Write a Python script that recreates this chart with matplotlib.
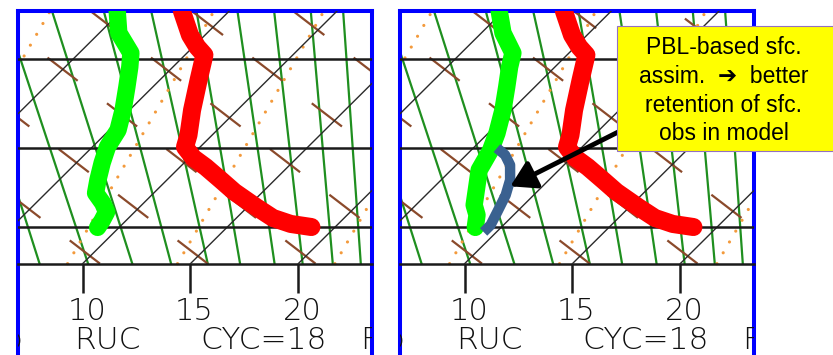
import numpy as np
import matplotlib
matplotlib.use("Agg")
import matplotlib.pyplot as plt
from matplotlib.patches import Rectangle
from matplotlib.transforms import ScaledTranslation

plt.rcParams["lines.scale_dashes"] = False

# ---------- valores ----------
# temperatura (vermelho), igual nos dois painéis  [hPa, °C]
p_temp = [651.6, 675.4, 687.6, 695.8, 722.3, 755.4, 784.1, 798.3, 811.4,
          822.5, 838.5, 853.7, 873.0, 887.5, 895.4, 899.5]
t_temp = [2.8, 4.3, 5.2, 5.9, 6.8, 7.9, 8.9, 9.3, 10.2,
          11.2, 12.5, 13.7, 15.4, 16.7, 17.8, 18.9]

# ponto de orvalho (verde), painel esquerdo
p_dew_a = [651.6, 673.3, 693.8, 708.4, 729.9, 755.4, 778.3, 798.3, 817.5,
           838.5, 855.0, 867.9, 879.6, 891.5, 900.0]
t_dew_a = [-0.2, 0.9, 2.4, 3.0, 3.8, 4.7, 5.4, 5.7, 6.2,
           6.8, 7.3, 8.1, 8.7, 8.9, 9.0]

# ponto de orvalho (verde), painel direito
p_dew_b = [651.6, 673.3, 693.8, 708.4, 729.9, 755.4, 781.8, 801.9, 826.1,
           851.1, 870.4, 883.5, 900.0]
t_dew_b = [-0.2, 1.0, 2.4, 2.9, 3.7, 4.6, 5.4, 5.9, 6.3,
           7.1, 7.7, 8.3, 8.8]

# linha azul (obs. de superfície retidas), painel direito
p_obs = [799.5, 807.8, 820.0, 838.5, 857.6, 879.6, 896.8, 906.2]
t_obs = [6.1, 6.8, 7.5, 8.2, 8.7, 9.1, 9.4, 9.4]

# ---------- linhas de fundo do diagrama ----------
isobaras = [700, 800, 900]
isotermas = [-10, -5, 0, 5, 10, 15, 20, 25]
ticks_t = [10, 15, 20]
# adiabaticas umidas (verde): T em 950 e 652 hPa
umida_950 = [8.0, 10.25, 12.3, 14.1, 15.8, 17.3, 18.9, 20.2, 21.6, 22.9]
umida_652 = [-7.5, -5.4, -3.2, -0.8, 1.4, 3.5, 5.4, 7.1, 8.8, 10.3]
# adiabaticas secas (marrom tracejado)
seca_950 = [10.8, 15.8, 20.8, 25.6, 30.3, 35.0]
seca_652 = [-16.2, -11.2, -6.2, -1.4, 3.3, 8.0]
# razao de mistura (pontos laranja)
mist_950 = [1.7, 9.3, 14.4, 21.7]
mist_652 = [-3.3, 4.3, 9.4, 16.7]

caixa_linhas = ["PBL-based sfc.", "assim.  \u2794  better",
                "retention of sfc.", "obs in model"]

P_BASE, P_TOP = 950.0, 652.0
SKEW = 31.3
W, H = 833, 355


def skew(t, p):
    return np.asarray(t, float) + SKEW * np.log(P_BASE / np.asarray(p, float))


fig = plt.figure(figsize=(W / 100, H / 100), dpi=100)


def eixo_px(left, top, right, bottom):
    return fig.add_axes([left / W, 1 - bottom / H, (right - left) / W, (bottom - top) / H])


def desenha_painel(ax, p_dew, t_dew):
    ax.set_yscale("log")
    ax.set_ylim(1105.2, 651.6)
    ax.set_xlim(7.0, 23.42)
    ax.tick_params(axis="y", which="both", left=False, labelleft=False)

    pp = [P_BASE, P_TOP]
    for a, b in zip(umida_950, umida_652):
        ax.plot(skew([a, b], pp), pp, color="#1f8f1f", lw=1.6, zorder=2)
    for a, b in zip(seca_950, seca_652):
        ax.plot(skew([a, b], pp), pp, color="#8b4a2b", lw=1.6,
                dashes=(27.4, 26.6), zorder=2)
    for a, b in zip(mist_950, mist_652):
        ax.plot(skew([a, b], pp), pp, color="#f39a3c", lw=2.3,
                dashes=(0.01, 9.0), dash_capstyle="round", zorder=2)
    for t in isotermas:
        ax.plot(skew([t, t], [P_BASE, 640]), [P_BASE, 640], color="#2a2a2a",
                lw=1.0, zorder=3)
    for p in isobaras:
        ax.axhline(p, color="#1a1a1a", lw=1.8, zorder=3)

    ax.plot(skew(t_temp, p_temp), p_temp, color="#ff0000", lw=13,
            solid_capstyle="round", solid_joinstyle="round", zorder=5)
    ax.plot(skew(t_dew, p_dew), p_dew, color="#00ff00", lw=12.5,
            solid_capstyle="round", solid_joinstyle="round", zorder=5)

    # moldura azul, base do diagrama em 950 hPa
    for s in ("left", "right", "top"):
        ax.spines[s].set_color("#0000ff")
        ax.spines[s].set_linewidth(2.9)
    ax.spines["bottom"].set_position(("data", P_BASE))
    ax.spines["bottom"].set_color("#1a1a1a")
    ax.spines["bottom"].set_linewidth(1.8)
    ax.set_xticks(ticks_t)
    ax.set_xticks([], minor=True)
    ax.tick_params(axis="x", direction="out", length=20.7, width=1.8,
                   color="#1a1a1a", labelbottom=False)

    desloc = ax.get_xaxis_transform() + ScaledTranslation(0.04, 0, fig.dpi_scale_trans)
    for t in ticks_t:
        ax.text(t, 0.127, str(t), transform=desloc, ha="center", va="baseline",
                fontsize=22, family="DejaVu Sans", weight="light", color="#111111")
    fonte = dict(fontsize=22.5, family="DejaVu Sans", weight="light",
                 color="#111111", va="baseline", transform=ax.transAxes)
    ax.text(0.2528, 0.044, "RUC", ha="center", **fonte)
    ax.text(0.6949, 0.044, "CYC=18", ha="center", **fonte)
    ax.text(0.966, 0.044, "F", ha="left", clip_on=True, **fonte)
    ax.text(0.0113, 0.044, "p", ha="right", clip_on=True, **fonte)


ax1 = eixo_px(18, 11, 372, 365)
ax2 = eixo_px(400, 11, 754, 365)
desenha_painel(ax1, p_dew_a, t_dew_a)
desenha_painel(ax2, p_dew_b, t_dew_b)

ax2.plot(skew(t_obs, p_obs), p_obs, color="#3a6190", lw=7.5,
         solid_capstyle="butt", solid_joinstyle="round", zorder=6)

# seta da caixa até a linha azul
alvo_t = (t_obs[3] + t_obs[4]) / 2
alvo_p = (p_obs[3] + p_obs[4]) / 2
ax2.annotate("", xy=(skew(alvo_t, alvo_p), alvo_p), xycoords="data",
             xytext=(642 / W, 1 - 120 / H), textcoords="figure fraction",
             arrowprops=dict(arrowstyle="-|>,head_length=0.75,head_width=0.45",
                             lw=3.5, color="black", shrinkA=0, shrinkB=2,
                             mutation_scale=20),
             annotation_clip=False, zorder=7)

# caixa amarela
fig.add_artist(Rectangle((617 / W, 1 - 151 / H), (840 - 617) / W, (151 - 26) / H,
                         transform=fig.transFigure, facecolor="#ffff00",
                         edgecolor="#9370c0", lw=0.8, zorder=5))
for linha, base in zip(caixa_linhas, [54, 83, 112, 140.5]):
    fig.text(723.5 / W, 1 - base / H, linha, ha="center", va="baseline",
             fontsize=16.5, family=["Liberation Sans", "DejaVu Sans"],
             color="black", zorder=6)

fig.savefig("out.png", dpi=100, facecolor="white")
